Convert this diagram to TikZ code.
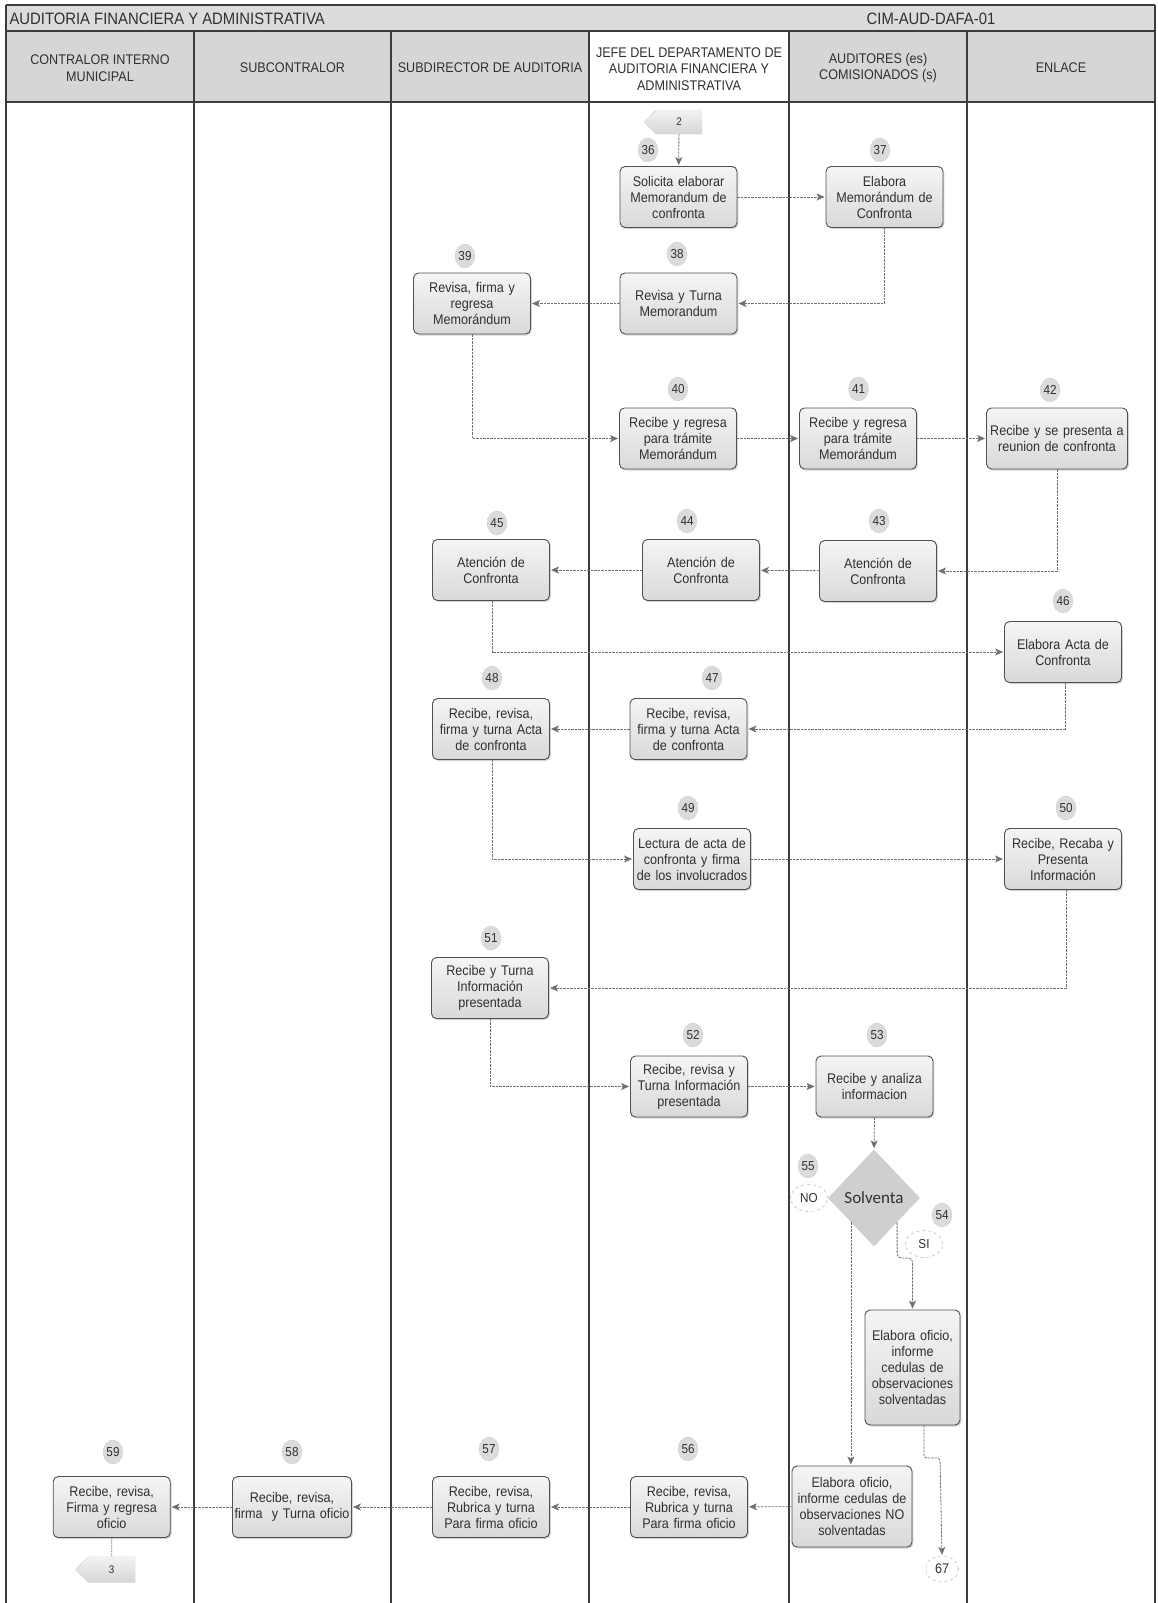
\documentclass[tikz,border=0pt]{standalone}
\usepackage{fontspec}
\setmainfont{Liberation Sans}[FakeStretch=0.9]
\newfontfamily\calfont{Carlito}
\usetikzlibrary{shapes.geometric,shapes.symbols,shadows,arrows.meta}

\definecolor{linegray}{HTML}{707070}
\definecolor{boxedge}{HTML}{505050}
\definecolor{lanecol}{HTML}{3C3C3C}
\definecolor{hdrfill}{HTML}{D6D6D6}
\definecolor{titlefill}{HTML}{DCDCDC}
\definecolor{txt}{HTML}{303030}

\tikzset{
  stepbox/.style={draw=boxedge, line width=0.9pt, rounded corners=5pt,
    top color=gray!8, bottom color=gray!30,
    minimum width=117pt, minimum height=61pt, text width=114pt,
    align=center, inner sep=1pt, text=txt,
    font=\fontsize{14}{16}\selectfont,
    drop shadow={shadow xshift=1.3pt, shadow yshift=-1.5pt, opacity=0.35}},
  badge/.style={ellipse, draw=gray!65, densely dotted, fill=gray!28,
    minimum width=20pt, minimum height=24pt, inner sep=0pt, text=txt,
    font=\fontsize{13}{13}\selectfont},
  answer/.style={ellipse, draw=gray!70, dashed, fill=white,
    minimum width=37pt, minimum height=27pt, inner sep=0pt, text=txt,
    font=\fontsize{13}{13}\selectfont},
  offpage/.style={signal, signal to=west, draw=gray!60, densely dotted,
    top color=gray!10, bottom color=gray!32, inner sep=0pt, text=txt,
    font=\fontsize{11}{11}\selectfont},
  flow/.style={draw=linegray, line width=0.8pt, dash pattern=on 2.5pt off 1pt,
    -{Stealth[length=8pt,width=7pt,inset=2pt]}, shorten >=1pt},
  plainflow/.style={draw=linegray, line width=0.8pt, dash pattern=on 1.5pt off 1pt},
  lane/.style={draw=lanecol, line width=1.4pt},
  hdrtext/.style={align=center, text=txt, font=\fontsize{14}{16.5}\selectfont},
}

\begin{document}
\begin{tikzpicture}[x=1pt, y=-1pt]
\useasboundingbox (0,0) rectangle (1157,1603);

% title bar
\fill[titlefill] (6,5) rectangle (1155,31);
\node[anchor=west, text=txt, font=\fontsize{16.5}{16.5}\selectfont] (title) at (6,18.5) {AUDITORIA FINANCIERA Y ADMINISTRATIVA};
\node[text=txt, font=\fontsize{16.5}{16.5}\selectfont] (code) at (931,18.5) {CIM-AUD-DAFA-01};

% header cells
\fill[hdrfill] (6,31) rectangle (589,102);
\fill[white] (589,31) rectangle (789,102);
\fill[hdrfill] (789,31) rectangle (1155,102);

\node[hdrtext] (h1) at (100,68) {CONTRALOR INTERNO\\MUNICIPAL};
\node[hdrtext] (h2) at (292.5,68) {SUBCONTRALOR};
\node[hdrtext] (h3) at (490,68) {SUBDIRECTOR DE AUDITORIA};
\node[hdrtext] (h4) at (689,69) {JEFE DEL DEPARTAMENTO DE\\AUDITORIA FINANCIERA Y\\ADMINISTRATIVA};
\node[hdrtext] (h5) at (878,68) {AUDITORES (es)\\COMISIONADOS (s)};
\node[hdrtext] (h6) at (1061,68) {ENLACE};

% frame and swimlanes
\draw[lane] (6,5) -- (1155,5);
\draw[lane] (6,31) -- (1155,31);
\draw[lane] (6,102) -- (1155,102);
\draw[lane] (6,5) -- (6,1603);
\draw[lane] (1155,5) -- (1155,1603);
\foreach \lx in {194,391,589,789,967} {
  \draw[lane] (\lx,31) -- (\lx,1603);
}

% process steps
\node[stepbox] (b36) at (678.5,197) {Solicita elaborar\\Memorandum de\\confronta};
\node[stepbox] (b37) at (884.5,197) {Elabora\\Memorándum de\\Confronta};
\node[stepbox] (b38) at (678.5,303.5) {Revisa y Turna\\Memorandum};
\node[stepbox] (b39) at (472,303.5) {Revisa, firma y\\regresa\\Memorándum};
\node[stepbox] (b40) at (678,438.5) {Recibe y regresa\\para trámite\\Memorándum};
\node[stepbox] (b41) at (858,438.5) {Recibe y regresa\\para trámite\\Memorándum};
\node[stepbox, minimum width=141pt, text width=138pt] (b42) at (1057,438.5) {Recibe y se presenta a\\reunion de confronta};
\node[stepbox] (b43) at (878,571) {Atención de\\Confronta};
\node[stepbox] (b44) at (701,570) {Atención de\\Confronta};
\node[stepbox] (b45) at (491,570) {Atención de\\Confronta};
\node[stepbox] (b46) at (1063,652) {Elabora Acta de\\Confronta};
\node[stepbox] (b47) at (688.5,729) {Recibe, revisa,\\firma y turna Acta\\de confronta};
\node[stepbox] (b48) at (491,729) {Recibe, revisa,\\firma y turna Acta\\de confronta};
\node[stepbox] (b49) at (692,859) {Lectura de acta de\\confronta y firma\\de los involucrados};
\node[stepbox] (b50) at (1063,859) {Recibe, Recaba y\\Presenta\\Información};
\node[stepbox] (b51) at (490,988) {Recibe y Turna\\Información\\presentada};
\node[stepbox] (b52) at (689,1086.5) {Recibe, revisa y\\Turna Información\\presentada};
\node[stepbox] (b53) at (874.5,1086.5) {Recibe y analiza\\informacion};

\node[diamond, fill=gray!38, minimum width=92pt, minimum height=97pt, inner sep=0pt,
      text=txt, font=\calfont\fontsize{17}{17}\selectfont] (dia) at (874,1198) {Solventa};

\node[stepbox, minimum width=95pt, text width=92pt, minimum height=115pt] (bsol) at (912.5,1367.5) {Elabora oficio,\\informe\\cedulas de\\observaciones\\solventadas};
\node[stepbox, minimum width=120pt, text width=117pt, minimum height=81pt] (bno) at (852,1506.5) {Elabora oficio,\\informe cedulas de\\observaciones NO\\solventadas};

\node[stepbox] (b56) at (689,1507) {Recibe, revisa,\\Rubrica y turna\\Para firma oficio};
\node[stepbox] (b57) at (491,1507) {Recibe, revisa,\\Rubrica y turna\\Para firma oficio};
\node[stepbox, minimum width=119pt] (b58) at (292,1507) {Recibe, revisa,\\\makebox[0pt][c]{firma~ y Turna oficio}};
\node[stepbox] (b59) at (111.7,1507) {Recibe, revisa,\\Firma y regresa\\oficio};

% off-page connectors and terminal
\node[offpage, minimum width=58pt, minimum height=24pt] (off2) at (679,122) {2};
\node[offpage, minimum width=60pt, minimum height=26pt] (off3) at (111.7,1569.5) {3};
\node[answer, minimum width=33pt, minimum height=26pt, font=\fontsize{14}{14}\selectfont] (c67) at (942,1569) {67};

% decision answers
\node[answer] (ansno) at (809,1198) {NO};
\node[answer] (anssi) at (924,1244) {SI};

% step numbers
\node[badge] (n36) at (648,150) {36};
\node[badge] (n37) at (880,150) {37};
\node[badge] (n38) at (677,254) {38};
\node[badge] (n39) at (465,256) {39};
\node[badge] (n40) at (678,389) {40};
\node[badge] (n41) at (858.5,389) {41};
\node[badge] (n42) at (1050,390) {42};
\node[badge] (n43) at (879,521) {43};
\node[badge] (n44) at (687,521) {44};
\node[badge] (n45) at (497,523) {45};
\node[badge] (n46) at (1063,601) {46};
\node[badge] (n47) at (712,678) {47};
\node[badge] (n48) at (492,678) {48};
\node[badge] (n49) at (688,808) {49};
\node[badge] (n50) at (1066,808) {50};
\node[badge] (n51) at (491,938) {51};
\node[badge] (n52) at (693,1035) {52};
\node[badge] (n53) at (877,1035) {53};
\node[badge] (n55) at (808,1166) {55};
\node[badge] (n54) at (942,1215) {54};
\node[badge] (n56) at (688,1449) {56};
\node[badge] (n57) at (489,1449) {57};
\node[badge] (n58) at (292,1452) {58};
\node[badge] (n59) at (113,1452) {59};

% bends
\coordinate (siturn) at (912.5,1258);
\coordinate (solturn) at (940,1458);

% connectors
\draw[flow] (off2) -- (b36);
\draw[flow] (b36) -- (b37);
\draw[flow] (b37.south) |- (b38.east);
\draw[flow] (b38) -- (b39);
\draw[flow] (b39.south) |- (b40.west);
\draw[flow] (b40) -- (b41);
\draw[flow] (b41) -- (b42);
\draw[flow] (b42.south) |- (b43.east);
\draw[flow] (b43) -- (b44);
\draw[flow] (b44) -- (b45);
\draw[flow] ([xshift=1pt]b45.south) |- (b46.west);
\draw[flow] ([xshift=2pt]b46.south) |- (b47.east);
\draw[flow] (b47) -- (b48);
\draw[flow] ([xshift=1pt]b48.south) |- (b49.west);
\draw[flow] (b49) -- (b50);
\draw[flow] ([xshift=3pt]b50.south) |- (b51.east);
\draw[flow] (b51.south) |- (b52.west);
\draw[flow] (b52) -- (b53);
\draw[flow] (b53.south) -- (dia.north);
\draw[flow] (dia.south west) -- (dia.south west |- bno.north);
\draw[flow, rounded corners=4pt] (dia.south east) |- (siturn) -- (bsol.north);
\draw[flow, rounded corners=3pt] ([xshift=11.5pt]bsol.south) |- (solturn) -- (c67.north);
\draw[flow] (bno) -- (b56);
\draw[flow] (b56) -- (b57);
\draw[flow] (b57) -- (b58);
\draw[flow] (b58) -- (b59);
\draw[plainflow] (b59) -- (off3);
\end{tikzpicture}
\end{document}
